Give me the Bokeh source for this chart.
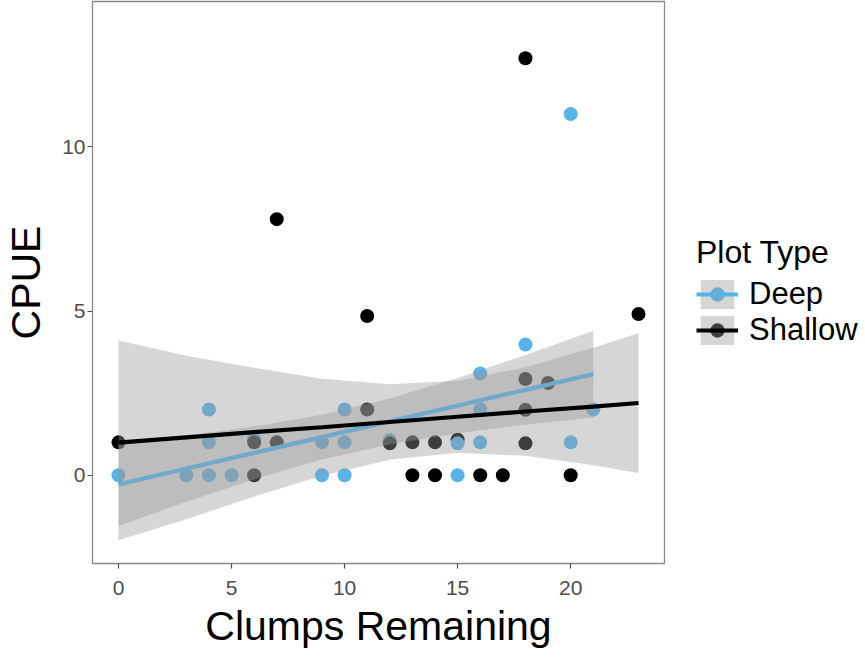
from bokeh.plotting import figure
from bokeh.models import Range1d, FixedTicker, Legend, LegendItem, ColumnDataSource
from bokeh.embed import file_html
from bokeh.resources import INLINE

# ---- data (rows in drawing order, like a data frame) ----
plot_type = ["Deep"] * 21 + ["Shallow"] * 22 + ["Deep"]
clumps = [0, 3, 4, 4, 4, 5, 6, 9, 9, 10, 10, 10, 12, 15, 16, 16, 16, 18, 20, 20, 21,
          0, 6, 6, 7, 7, 11, 11, 12, 13, 13, 14, 14, 15, 16, 17, 18, 18, 18, 18, 19, 20, 23,
          15]
cpue = [0, 0, 0, 1, 2, 0, 1.1, 0, 1, 0, 1, 2, 1.07, 0, 1, 2, 3.1, 3.98, 1, 11, 2,
        1, 0, 1, 1, 7.8, 2, 4.85, 0.97, 0, 1, 0, 1, 1.08, 0, 0, 0.97, 1.99, 2.93, 12.7, 2.81, 0, 4.91,
        0.97]

# linear fits with 95% bands
deep_fit_x = [0, 3, 6, 9, 12, 15, 18, 21]
deep_fit = [-0.28, 0.20, 0.68, 1.16, 1.64, 2.12, 2.60, 3.08]
deep_lower = [-1.54, -0.81, -0.12, 0.48, 0.94, 1.28, 1.54, 1.76]
deep_upper = [0.98, 1.21, 1.48, 1.84, 2.34, 2.96, 3.66, 4.40]

shallow_fit_x = [0, 3, 6, 9, 12, 15, 18, 21, 23]
shallow_fit = [0.99, 1.15, 1.31, 1.46, 1.62, 1.78, 1.94, 2.09, 2.20]
shallow_lower = [-1.98, -1.34, -0.65, -0.02, 0.47, 0.68, 0.59, 0.30, 0.07]
shallow_upper = [4.10, 3.64, 3.27, 2.94, 2.77, 2.88, 3.29, 3.88, 4.33]

x_ticks = [0, 5, 10, 15, 20]
y_ticks = [0, 5, 10]

COLORS = {"Deep": "#56B4E9", "Shallow": "#000000"}
FONT = "Liberation Sans"

p = figure(frame_width=572, frame_height=562, output_backend="svg", toolbar_location=None,
           x_range=Range1d(-1.15, 24.15), y_range=Range1d(-2.69, 14.43),
           min_border_left=84, min_border_right=193, min_border_top=1, min_border_bottom=80)
p.background_fill_color = "white"
p.border_fill_color = "white"
p.outline_line_color = "#8A8A8A"
p.outline_line_width = 1.3
p.xgrid.visible = False
p.ygrid.visible = False

src = ColumnDataSource(dict(x=clumps, y=cpue, c=[COLORS[t] for t in plot_type]))
p.scatter("x", "y", source=src, size=14, fill_color="c", line_color=None)

deep_band = p.varea(x=deep_fit_x, y1=deep_lower, y2=deep_upper, fill_color="#999999", fill_alpha=0.4)
deep_line = p.line(deep_fit_x, deep_fit, line_color=COLORS["Deep"], line_width=4.2)
shallow_band = p.varea(x=shallow_fit_x, y1=shallow_lower, y2=shallow_upper, fill_color="#999999", fill_alpha=0.4)
shallow_line = p.line(shallow_fit_x, shallow_fit, line_color=COLORS["Shallow"], line_width=4.2)

# legend key markers (placed outside the visible range)
deep_key = p.scatter(x=[-100], y=[-100], size=14, fill_color=COLORS["Deep"], line_color=None)
shallow_key = p.scatter(x=[-100], y=[-100], size=14, fill_color=COLORS["Shallow"], line_color=None)

legend = Legend(items=[
    LegendItem(label="Deep", renderers=[deep_key, deep_band, deep_line]),
    LegendItem(label="Shallow", renderers=[shallow_key, shallow_band, shallow_line]),
], location=(32, 215))
legend.title = "Plot Type"
legend.title_text_font = FONT
legend.title_text_font_size = "32px"
legend.title_text_font_style = "normal"
legend.title_text_color = "black"
legend.title_standoff = 5
legend.label_text_font = FONT
legend.label_text_font_size = "31px"
legend.label_text_color = "black"
legend.glyph_width = 42
legend.glyph_height = 36
legend.spacing = 0
legend.padding = 0
legend.margin = 0
legend.label_standoff = 11
legend.border_line_color = None
legend.background_fill_alpha = 0
p.add_layout(legend, "right")

for ax, ticks in ((p.xaxis[0], x_ticks), (p.yaxis[0], y_ticks)):
    ax.ticker = FixedTicker(ticks=ticks)
    ax.axis_line_color = None
    ax.major_tick_line_color = "#4D4D4D"
    ax.major_tick_line_width = 1.2
    ax.major_tick_out = 5
    ax.major_tick_in = 0
    ax.minor_tick_line_color = None
    ax.major_label_text_font = FONT
    ax.major_label_text_font_size = "21px"
    ax.major_label_text_color = "#4D4D4D"
    ax.axis_label_text_font = FONT
    ax.axis_label_text_font_size = "41px"
    ax.axis_label_text_font_style = "normal"
    ax.axis_label_text_color = "black"

p.xaxis.axis_label = "Clumps Remaining"
p.yaxis.axis_label = "CPUE"
p.xaxis.major_label_standoff = 12
p.xaxis.axis_label_standoff = 5
p.yaxis.major_label_standoff = 2
p.yaxis.axis_label_standoff = 10
p.yaxis.major_label_orientation = "horizontal"

open("out.html", "w").write(file_html(p, INLINE))
